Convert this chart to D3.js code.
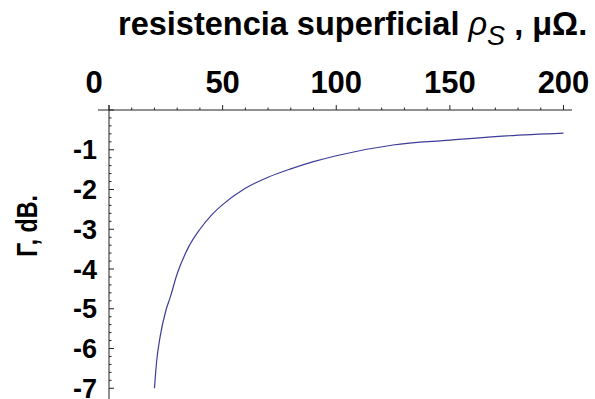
<!DOCTYPE html>
<html>
<head>
<meta charset="utf-8">
<script src="https://cdn.jsdelivr.net/npm/d3@7"></script>
<style>
  body { margin: 0; background: #fff; }
  svg { display: block; font-family: "Liberation Sans", Arial, sans-serif; font-weight: bold; }
</style>
</head>
<body>
<svg width="595" height="399"></svg>
<script>
// surface resistance (micro-ohm) vs reflection coefficient (dB)
var rhoS  = [20, 21, 22.5, 25, 27, 30, 35, 40, 45, 50, 60, 70, 80, 90, 100, 125, 150, 175, 200];
var gamma = [-7.0, -6.3, -5.7, -5.05, -4.7, -4.12, -3.45, -3.0, -2.65, -2.38, -1.97, -1.69, -1.48, -1.3, -1.15, -0.88, -0.76, -0.65, -0.58];
var xTicks = [0, 50, 100, 150, 200];
var yTicks = [-1, -2, -3, -4, -5, -6, -7];

var svg = d3.select("svg");

var x = d3.scaleLinear().domain([0, 200]).range([109, 563.5]);
var y = d3.scaleLinear().domain([0, -7.27]).range([110, 399]);

var axisColor = "#222";

// x axis along the top, ticks point up
var gx = svg.append("g");
gx.append("line")
    .attr("x1", 98).attr("x2", 572)
    .attr("y1", y(0)).attr("y2", y(0))
    .attr("stroke", axisColor).attr("stroke-width", 1);
gx.selectAll(".minor")
    .data(d3.range(0, 201, 10))
    .enter().append("line")
      .attr("x1", function(d) { return x(d); }).attr("x2", function(d) { return x(d); })
      .attr("y1", y(0)).attr("y2", function(d) { return d % 50 === 0 ? y(0) - 5 : y(0) - 2.5; })
      .attr("stroke", axisColor);
gx.selectAll("text")
    .data(xTicks)
    .enter().append("text")
      // Mathematica nudges the 0 label off the vertical axis
      .attr("x", function(d) { return d === 0 ? x(d) - 15 : x(d); })
      .attr("y", 93)
      .attr("text-anchor", "middle")
      .style("font-size", "31px")
      .text(function(d) { return d; });

// y axis, ticks point right into the plot
var gy = svg.append("g");
gy.append("line")
    .attr("x1", x(0)).attr("x2", x(0))
    .attr("y1", 105).attr("y2", 399)
    .attr("stroke", axisColor).attr("stroke-width", 1);
gy.selectAll(".minor")
    .data(d3.range(0, 36).map(function(i) { return -i * 0.2; }))
    .enter().append("line")
      .attr("y1", function(d) { return y(d); }).attr("y2", function(d) { return y(d); })
      .attr("x1", x(0))
      .attr("x2", function(d, i) { return i % 5 === 0 ? x(0) + 5 : x(0) + 2.5; })
      .attr("stroke", axisColor);
gy.selectAll("text")
    .data(yTicks)
    .enter().append("text")
      .attr("x", 97)
      .attr("y", function(d) { return y(d); })
      .attr("dy", "0.36em")
      .attr("text-anchor", "end")
      .style("font-size", "27px")
      .text(function(d) { return d; });

// curve
var line = d3.line()
    .x(function(d, i) { return x(rhoS[i]); })
    .y(function(d) { return y(d); })
    .curve(d3.curveMonotoneX);

svg.append("path")
    .datum(gamma)
    .attr("d", line)
    .attr("fill", "none")
    .attr("stroke", "#3d3d99")
    .attr("stroke-width", 1.2);

// title
var title = svg.append("text")
    .attr("x", 118).attr("y", 35)
    .style("font-size", "32.5px");
title.append("tspan").text("resistencia superficial ");
title.append("tspan").style("font-style", "italic").style("font-weight", "normal").text("ρ");
title.append("tspan").attr("dy", 10).style("font-style", "italic").style("font-weight", "normal").style("font-size", "27px").text("S");
title.append("tspan").attr("dy", -10).text(" , μΩ.");

// y label, squeezed along its length like the original
svg.append("text")
    .attr("transform", "translate(37,226) rotate(-90) scale(0.8,1)")
    .attr("text-anchor", "middle")
    .style("font-size", "29px")
    .text("Γ, dB.");
</script>
</body>
</html>
